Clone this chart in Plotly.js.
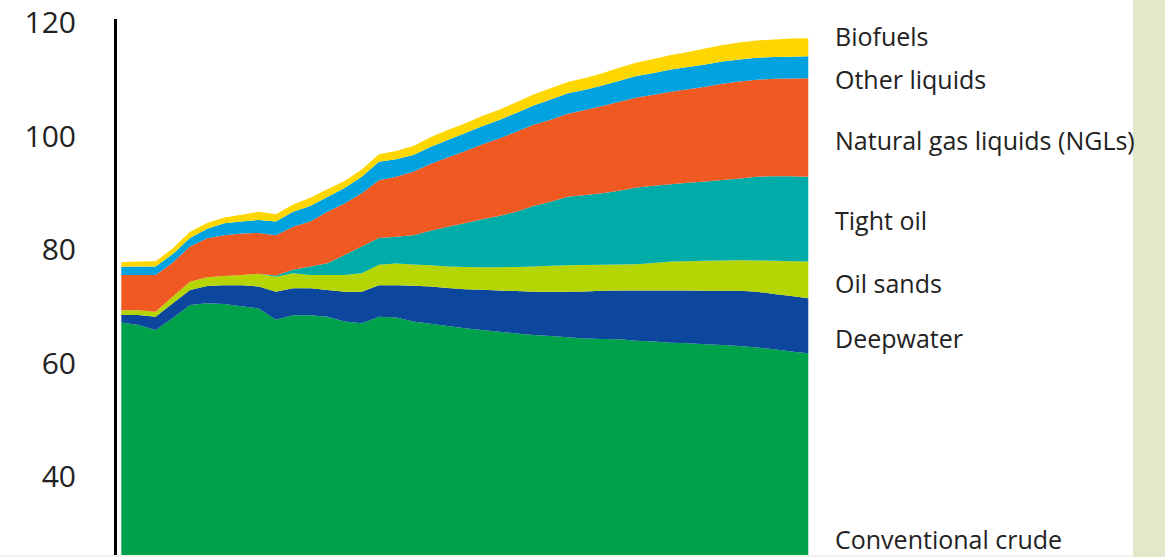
<!DOCTYPE html>
<html>
<head>
<meta charset="utf-8">
<script src="https://cdn.plot.ly/plotly-3.0.1.min.js"></script>
<style>
  html, body { margin: 0; padding: 0; background: #ffffff; }
  #chart { width: 1165px; height: 557px; }
</style>
</head>
<body>
<div id="chart"></div>
<script>
// Liquids supply by type (Mb/d)
const years = [2000,2001,2002,2003,2004,2005,2006,2007,2008,2009,2010,2011,2012,2013,2014,2015,2016,2017,2018,2019,2020,
               2021,2022,2023,2024,2025,2026,2027,2028,2029,2030,2031,2032,2033,2034,2035,2036,2037,2038,2039,2040];

const conventionalCrude = [67.2,66.8,65.9,68.0,70.3,70.6,70.5,70.1,69.7,67.7,68.5,68.5,68.25,67.4,67.1,68.25,68.1,67.4,67.0,66.6,66.2,
                           65.9,65.6,65.3,65.0,64.85,64.6,64.4,64.3,64.25,64.0,63.85,63.65,63.55,63.4,63.25,63.1,62.8,62.5,62.1,61.8];
const deepwater = [1.35,1.75,2.35,2.6,2.65,3.05,3.3,3.7,3.85,4.95,4.75,4.75,4.7,5.25,5.55,5.55,5.7,6.3,6.55,6.7,6.9,
                   7.1,7.25,7.45,7.65,7.8,8.05,8.3,8.5,8.6,8.85,9.0,9.2,9.3,9.4,9.55,9.7,9.85,9.75,9.8,9.7];
const oilSands = [0.85,0.85,0.85,1.2,1.45,1.55,1.6,1.8,2.25,2.65,2.65,2.35,2.65,2.95,3.25,3.6,3.8,3.75,3.75,3.8,3.9,
                  3.95,4.1,4.25,4.45,4.55,4.65,4.65,4.6,4.6,4.65,4.85,5.1,5.15,5.3,5.35,5.4,5.5,5.85,6.1,6.45];
const tightOil = [0,0,0,0,0,0,0,0,0,0.2,0.6,1.5,2.05,3.5,4.7,4.7,4.75,5.15,6.1,7.0,7.7,
                  8.45,9.05,9.75,10.65,11.3,12.1,12.35,12.6,13.0,13.5,13.6,13.65,13.85,13.95,14.2,14.4,14.75,14.9,15.0,14.95];
const ngls = [6.2,6.2,6.5,6.0,6.2,6.85,7.2,7.3,7.2,7.1,7.6,7.9,9.1,9.1,9.4,10.2,10.55,11.2,11.75,12.2,12.7,
              13.2,13.65,14.1,14.3,14.45,14.6,14.95,15.35,15.65,15.85,16.05,16.3,16.45,16.7,16.95,17.1,17.1,17.15,17.2,17.35];
const otherLiquids = [1.45,1.5,1.5,1.5,1.5,1.7,2.1,2.1,2.3,2.4,2.65,2.75,2.6,2.7,2.9,3.25,3.1,2.95,3.0,3.1,3.15,
                      3.2,3.25,3.3,3.4,3.55,3.6,3.6,3.65,3.7,3.8,3.85,3.9,3.95,3.95,3.9,3.85,3.85,3.85,3.85,3.9];
const biofuels = [0.8,0.85,0.9,1.0,1.1,1.0,1.0,1.2,1.45,1.3,1.25,1.45,1.35,1.25,1.3,1.3,1.45,1.55,1.7,1.75,1.75,
                  1.8,1.8,1.9,1.95,2.0,2.0,2.05,2.15,2.3,2.4,2.45,2.55,2.65,2.8,2.9,3.0,3.05,3.1,3.2,3.15];

const seriesNames = ["Conventional crude","Deepwater","Oil sands","Tight oil","Natural gas liquids (NGLs)","Other liquids","Biofuels"];
const seriesValues = [conventionalCrude, deepwater, oilSands, tightOil, ngls, otherLiquids, biofuels];
const seriesColors = ["#00a14b","#0c479d","#b6d504","#00aca8","#f05a22","#00a3e0","#ffd700"];

// label positions (value on y axis) for the right-side labels
const labelY = [29.0, 64.5, 74.2, 85.3, 99.4, 110.1, 117.7];
const yTicks = [40, 60, 80, 100, 120];

const traces = seriesNames.map((name, i) => ({
  type: "scatter",
  mode: "none",
  name: name,
  x: years,
  y: seriesValues[i],
  stackgroup: "liquids",
  fill: i === 0 ? "tozeroy" : "tonexty",
  fillcolor: seriesColors[i],
  line: { width: 0 },
  hoverinfo: "skip"
}));

const textFont = { family: "Open Sans, Noto Sans, sans-serif", size: 25, color: "#222222" };

const annotations = seriesNames.map((name, i) => ({
  xref: "paper", yref: "y",
  x: 1.0332, y: labelY[i],
  xanchor: "left", yanchor: "middle",
  text: name, showarrow: false,
  font: textFont
}));

const layout = {
  width: 1165, height: 557,
  margin: { l: 117, r: 355, t: 19, b: 2, pad: 0 },
  paper_bgcolor: "#ffffff",
  plot_bgcolor: "#ffffff",
  showlegend: false,
  hovermode: false,
  xaxis: {
    range: [1999.75, 2040.1],
    showline: false, showgrid: false, zeroline: false,
    showticklabels: false, ticks: ""
  },
  yaxis: {
    range: [26.25, 120.7],
    tickvals: yTicks,
    ticktext: yTicks.map(String),
    showline: true, linecolor: "#000000", linewidth: 3,
    showgrid: false, zeroline: false,
    ticks: "outside", ticklen: 32, tickcolor: "rgba(0,0,0,0)",
    tickfont: { family: "Open Sans, Noto Sans, sans-serif", size: 30, color: "#222222" }
  },
  annotations: annotations,
  shapes: [
    { type: "rect", xref: "paper", yref: "paper", x0: 1.4661, x1: 1.6, y0: -0.05, y1: 1.1,
      fillcolor: "#e2e9c9", line: { width: 0 }, layer: "above" },
    { type: "rect", xref: "paper", yref: "paper", x0: -0.3, x1: 1.4661, y0: -0.05, y1: 0,
      fillcolor: "#f1f2ea", line: { width: 0 }, layer: "above" }
  ]
};

Plotly.newPlot("chart", traces, layout, { displayModeBar: false, staticPlot: true });
</script>
</body>
</html>
